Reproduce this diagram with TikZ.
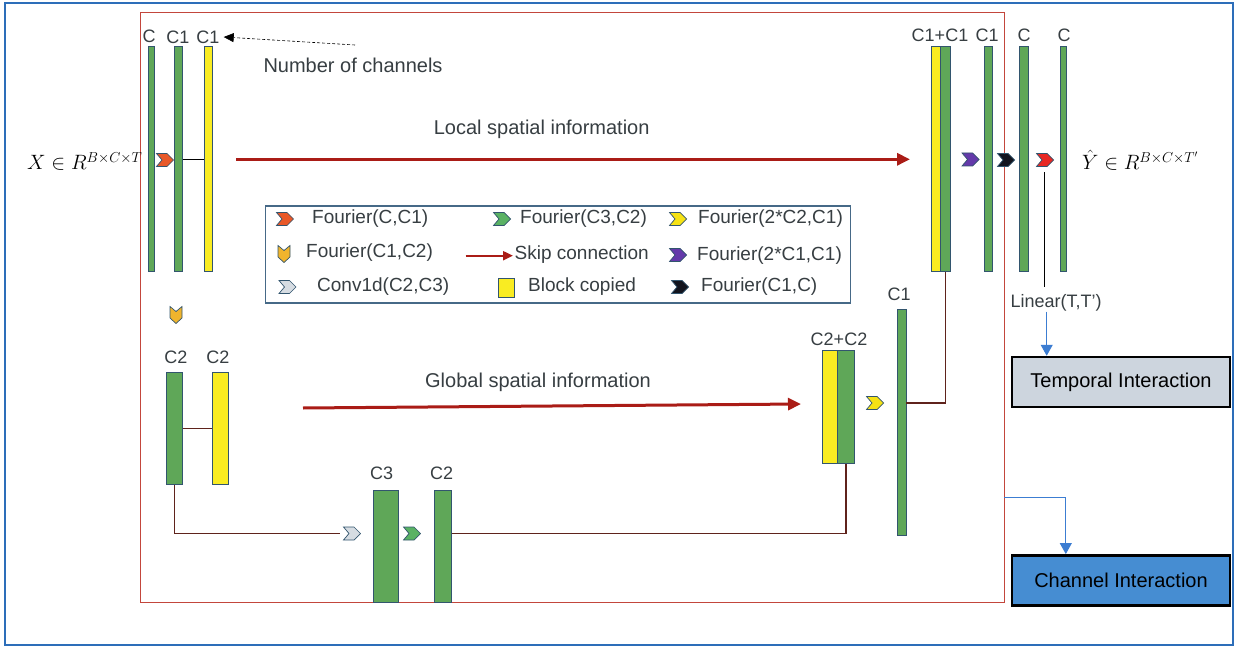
\documentclass[tikz,border=0pt]{standalone}
\usepackage{fontspec}
\setmainfont{Liberation Sans}
\usetikzlibrary{arrows.meta}
\definecolor{gfill}{RGB}{95,167,88}
\definecolor{yfill}{RGB}{249,236,34}
\definecolor{barline}{RGB}{50,85,110}
\definecolor{txt}{RGB}{55,62,66}
\definecolor{skipred}{RGB}{170,28,22}
\definecolor{outerblue}{RGB}{45,110,185}
\definecolor{innerred}{RGB}{195,70,60}
\definecolor{legline}{RGB}{70,105,135}
\definecolor{conn}{RGB}{95,35,28}
\definecolor{arrblue}{RGB}{60,125,210}
\definecolor{tfill}{RGB}{205,213,222}
\definecolor{cfill}{RGB}{70,141,210}
\definecolor{chorange}{RGB}{232,88,40}
\definecolor{chgreen}{RGB}{90,178,100}
\definecolor{chyellow}{RGB}{246,226,20}
\definecolor{chpurple}{RGB}{100,58,170}
\definecolor{chblack}{RGB}{18,20,30}
\definecolor{chred}{RGB}{232,40,35}
\definecolor{chgray}{RGB}{214,220,226}
\definecolor{chdown}{RGB}{240,180,45}
\tikzset{
  bar/.style={draw=barline, line width=0.9pt, inner sep=0pt},
  lab/.style={text=txt, font=\fontsize{18}{22}\selectfont, inner sep=0pt},
  big/.style={text=txt, font=\fontsize{20}{24}\selectfont, inner sep=0pt},
  leg/.style={text=txt, font=\fontsize{19}{23}\selectfont, inner sep=0pt, anchor=west},
  connline/.style={draw=conn, line width=1.2pt},
  skiparrow/.style={draw=skipred, line width=3pt, -{Triangle[length=13pt,width=12pt]}},
  bluearrow/.style={draw=arrblue, line width=1pt, -{Triangle[length=11pt,width=12pt]}},
  ibox/.style={draw=black, line width=2.5pt, inner sep=0pt, minimum width=218pt, minimum height=50pt, font=\fontsize{20}{24}\selectfont},
  mathlab/.style={anchor=base west, inner sep=0pt, font=\fontsize{19.5}{24}\selectfont},
  pics/chevR/.style={code={\filldraw[fill=#1, draw=barline, line width=0.7pt, line join=miter]
     (-8.5,-6.5) -- (2,-6.5) -- (8.5,0) -- (2,6.5) -- (-8.5,6.5) -- (-3,0) -- cycle;}},
  pics/chevD/.style={code={\filldraw[fill=#1, draw=barline, line width=0.7pt, line join=miter]
     (-6,-8.5) -- (0,-3.5) -- (6,-8.5) -- (6,3) -- (0,8.5) -- (-6,3) -- cycle;}}
}
\begin{document}
\begin{tikzpicture}[x=1pt,y=-1pt]
\useasboundingbox (0,0) rectangle (1237,650);
\fill[white] (0,0) rectangle (1237,650);
% frames
\node[draw=outerblue, line width=2pt, minimum width=1228pt, minimum height=642pt, inner sep=0pt] (outer) at (619,324) {};
\node[draw=innerred, line width=0.8pt, minimum width=864pt, minimum height=590pt, inner sep=0pt] (inner) at (572,307) {};

% ---------- top-left encoder ----------
\node[bar, fill=gfill, minimum width=5.7pt, minimum height=225pt] (bC) at (151.2,159.2) {};
\node[bar, fill=gfill, minimum width=8.4pt, minimum height=225pt] (bC1) at (178.5,159.2) {};
\node[bar, fill=yfill, minimum width=8.4pt, minimum height=225pt] (bY1) at (208.5,159.2) {};
\node[lab] (lC) at (149,36) {C};
\node[lab] (lC1a) at (178,37) {C1};
\node[lab] (lC1b) at (208,37) {C1};
\node[big] (nch) at (353,65) {Number of channels};
\coordinate (nchs) at (355,45);
\draw[densely dashed, line width=0.6pt, -{Triangle[length=10pt,width=9pt]}] (nchs) -- ([xshift=4pt]lC1b.east);
\pic at (165,160) {chevR=chorange};
\draw[black, line width=1.2pt] (bC1.east) -- (bY1.west);
\node[mathlab] (xin) at (27,170) {$X\in R^{B\times C\times T}$};

% local skip
\node[big] (loc) at (541.7,129) {Local spatial information};
\coordinate (locS) at (236,159.3);
\coordinate (locE) at (910,159.3);
\draw[skiparrow] (locS) -- (locE);

% ---------- top-right decoder ----------
\node[bar, fill=yfill, minimum width=9pt, minimum height=225pt] (cc1y) at (936.2,159.2) {};
\node[bar, fill=gfill, minimum width=9.3pt, minimum height=225pt] (cc1g) at (945.35,159.2) {};
\node[bar, fill=gfill, minimum width=8.7pt, minimum height=225pt] (bR1) at (988.35,159.2) {};
\node[bar, fill=gfill, minimum width=9.4pt, minimum height=225pt] (bR2) at (1024,159.2) {};
\node[bar, fill=gfill, minimum width=6pt, minimum height=225pt] (bR3) at (1063.7,159.2) {};
\node[lab] (lcc1) at (940,35) {C1+C1};
\node[lab] (lR1) at (987,35) {C1};
\node[lab] (lR2) at (1024,35) {C};
\node[lab] (lR3) at (1064,35) {C};
\pic at (970.5,159.5) {chevR=chpurple};
\pic at (1006,160) {chevR=chblack};
\pic at (1045,160) {chevR=chred};
\coordinate (rchb) at (1044.3,172);
\coordinate (rchc) at (1044.3,287);
\draw[black, line width=1pt] (rchb) -- (rchc);
\node[mathlab] (yout) at (1082,170) {$\hat{Y}\in R^{B\times C\times T'}$};
\node[lab] (lin) at (1056,303) {Linear(T,T’)};

% ---------- legend ----------
\node[draw=legline, line width=1.2pt, minimum width=585pt, minimum height=97pt, inner sep=0pt] (legend) at (558.3,254.5) {};
\pic at (285,219) {chevR=chorange};
\node[leg] (t1) at (312,219) {Fourier(C,C1)};
\pic at (502,219) {chevR=chgreen};
\node[leg] (t2) at (520,219) {Fourier(C3,C2)};
\pic at (678,219) {chevR=chyellow};
\node[leg] (t3) at (698,219) {Fourier(2*C2,C1)};
\pic at (284,254) {chevD=chdown};
\node[leg] (t4) at (306,253) {Fourier(C1,C2)};
\coordinate (ska) at (465.5,255.7);
\coordinate (skb) at (513,255.7);
\draw[draw=skipred, line width=2pt, -{Triangle[length=10pt,width=9pt]}] (ska) -- (skb);
\node[leg] (t5) at (514.5,255) {Skip connection};
\pic at (678,255) {chevR=chpurple};
\node[leg] (t6) at (697,256) {Fourier(2*C1,C1)};
\pic at (287.5,287) {chevR=chgray};
\node[leg] (t7) at (317,287) {Conv1d(C2,C3)};
\node[bar, fill=yfill, minimum width=16.5pt, minimum height=19pt] (sq) at (506.2,287.5) {};
\node[leg] (t8) at (528,287) {Block copied};
\pic at (680,287) {chevR=chblack};
\node[leg] (t9) at (701,287) {Fourier(C1,C)};

% ---------- lower part ----------
\pic at (176,315) {chevD=chdown};
\node[bar, fill=gfill, minimum width=16pt, minimum height=111.6pt] (c2g) at (174.7,428.5) {};
\node[bar, fill=yfill, minimum width=15.6pt, minimum height=111.6pt] (c2y) at (220.5,428.5) {};
\node[lab] (lc2g) at (176,357) {C2};
\node[lab] (lc2y) at (218,357) {C2};
\draw[connline] (c2g.east) -- (c2y.west);

\node[big] (glob) at (538,382.7) {Global spatial information};
\coordinate (glS) at (303,408);
\coordinate (glE) at (801,404);
\draw[skiparrow] (glS) -- (glE);

\coordinate (convin) at (340,533.5);
\draw[connline] (c2g.south) |- (convin);
\pic at (352,533.5) {chevR=chgray};
\node[bar, fill=gfill, minimum width=25pt, minimum height=112.3pt] (c3) at (385.8,546.2) {};
\pic at (412,533.5) {chevR=chgreen};
\node[bar, fill=gfill, minimum width=16.7pt, minimum height=112.3pt] (c2b) at (442.7,546.2) {};
\node[lab] (lc3) at (381.7,473) {C3};
\node[lab] (lc2b) at (441.7,473) {C2};

\node[bar, fill=yfill, minimum width=15.3pt, minimum height=112.6pt] (cc2y) at (830.2,407) {};
\node[bar, fill=gfill, minimum width=16.4pt, minimum height=112.6pt] (cc2g) at (846,407) {};
\node[lab] (lcc2) at (839,339) {C2+C2};
\draw[connline] (c2b.east |- convin) -| (cc2g.south);

\pic at (875,403) {chevR=chyellow};
\coordinate (ychev) at (875,403);
\node[bar, fill=gfill, minimum width=9pt, minimum height=226pt] (tc1) at (901.5,422) {};
\node[lab] (ltc1) at (899,294) {C1};
\draw[connline] (cc1g.south) |- (tc1.east |- ychev);

% ---------- interaction boxes ----------
\node[ibox, fill=tfill] (tbox) at (1121,382) {Temporal Interaction};
\node[ibox, fill=cfill] (cbox) at (1121,580.3) {Channel Interaction};
\coordinate (linx) at (1046.7,0);
\draw[bluearrow] (lin.south -| linx) -- (tbox.north -| linx);
\coordinate (chx) at (1065.8,497.3);
\draw[bluearrow] (inner.east |- chx) -| (cbox.north -| chx);
\end{tikzpicture}
\end{document}
